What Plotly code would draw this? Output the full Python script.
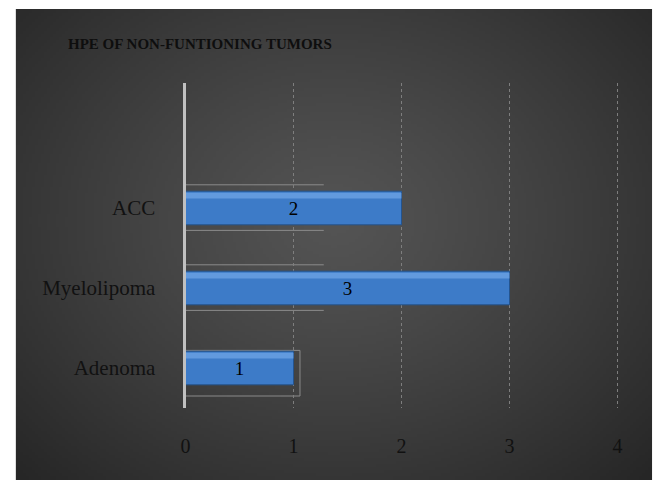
import base64, struct, zlib
import numpy as np
import plotly.graph_objects as go

# ---- data ----
categories = ["Adenoma", "Myelolipoma", "ACC"]
counts = [1, 3, 2]
x_ticks = [0, 1, 2, 3, 4]
title_text = "HPE OF NON-FUNTIONING TUMORS"

W, H = 659, 480

# ---- radial-gradient background as an inline PNG ----
def make_png(arr):
    h, w = arr.shape[:2]
    raw = b"".join(b"\x00" + arr[r].tobytes() for r in range(h))
    def chunk(tag, data):
        c = struct.pack(">I", len(data)) + tag + data
        return c + struct.pack(">I", zlib.crc32(tag + data) & 0xffffffff)
    png = b"\x89PNG\r\n\x1a\n"
    png += chunk(b"IHDR", struct.pack(">IIBBBBB", w, h, 8, 2, 0, 0, 0))
    png += chunk(b"IDAT", zlib.compress(raw, 9))
    png += chunk(b"IEND", b"")
    return "data:image/png;base64," + base64.b64encode(png).decode()

gw, gh = 215, 157
yy, xx = np.mgrid[0:gh, 0:gw]
dx = (xx / (gw - 1) - 0.5) / 0.5
dy = (yy / (gh - 1) - 0.45) / 0.55
d = np.clip(np.sqrt(dx**2 + dy**2) / np.sqrt(2), 0, 1)
val = (84 - 46 * d**1.2).astype(np.uint8)
img = np.stack([val, val, val], axis=-1)
bg_src = make_png(img)

serif = "Liberation Serif, Times New Roman, serif"

ypos = list(range(len(categories)))

fig = go.Figure()
fig.add_trace(go.Bar(
    y=ypos, x=counts, orientation="h", width=0.42,
    marker=dict(color="#3d7bc8", line=dict(color="#24548f", width=1)),
    text=[str(v) for v in counts],
    textposition="inside", insidetextanchor="middle",
    textfont=dict(family=serif, size=19, color="#000000"),
    hoverinfo="skip",
))
# highlight strip near the top edge (bevel look)
fig.add_trace(go.Bar(
    y=ypos, x=counts, orientation="h", width=0.07, offset=0.12,
    marker=dict(color="rgba(130,180,240,0.55)", line=dict(width=0)),
    hoverinfo="skip",
))

UNIT = 109.5
XMAX = 4.01
x0d, x1d = 183 / W, (183 + XMAX * UNIT) / W
y0d, y1d = (H - 408) / H, (H - 83) / H

fig.update_layout(
    width=W, height=H,
    margin=dict(l=0, r=0, t=0, b=0),
    paper_bgcolor="#ffffff",
    plot_bgcolor="rgba(0,0,0,0)",
    showlegend=False,
    barmode="overlay",
    images=[dict(source=bg_src, xref="paper", yref="paper",
                 x=11 / W, y=1 - 9 / H, sizex=(656 - 11) / W, sizey=(H - 9) / H,
                 xanchor="left", yanchor="top", sizing="stretch", layer="below")],
    annotations=[dict(text="<b>" + title_text + "</b>", xref="paper", yref="paper",
                      x=62 / W, y=1 - 44 / H, xanchor="left", yanchor="middle",
                      showarrow=False, font=dict(family=serif, size=15, color="#0e0e0e"))],
    xaxis=dict(domain=[x0d, x1d], range=[0, XMAX], tickvals=x_ticks,
               showgrid=True, gridcolor="#7e7e7e", gridwidth=1, griddash="dot",
               zeroline=False, showline=False, ticks="",
               ticklabelstandoff=24,
               tickfont=dict(family=serif, size=20, color="#111111")),
    yaxis=dict(domain=[y0d, y1d], range=[-0.5, 3.5625],
               tickvals=ypos, ticktext=categories,
               showgrid=False, zeroline=False, showline=True,
               linecolor="#c0c0c0", linewidth=3, ticks="",
               ticklabelstandoff=23,
               tickfont=dict(family=serif, size=21, color="#111111")),
)

# faint selection-like outlines seen in the reference
deco = dict(color="#8a8a8a", width=1)
for yc, ext in [(2, 1.28), (1, 1.28)]:
    for off in (-0.28, 0.29):
        fig.add_shape(type="line", x0=0, x1=ext, y0=yc + off, y1=yc + off,
                      xref="x", yref="y", line=deco, layer="below")
fig.add_shape(type="rect", x0=0, x1=1.06, y0=-0.35, y1=0.22,
              xref="x", yref="y", line=deco, layer="below")

fig.write_html("out.html")
